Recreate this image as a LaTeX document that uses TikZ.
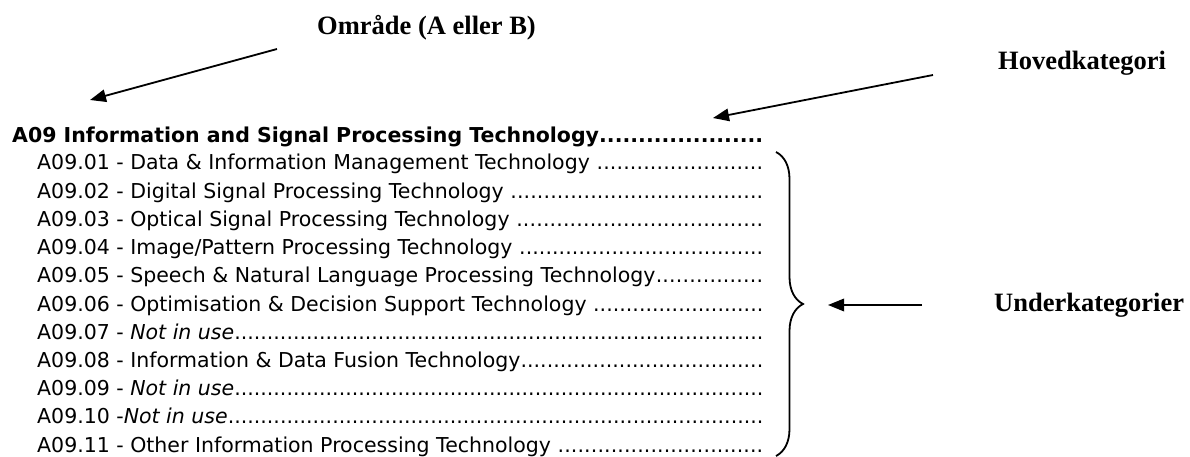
\documentclass[tikz,border=0pt]{standalone}
\usepackage{fontspec}
\setmainfont{Liberation Serif}
\newfontfamily\listfont{DejaVu Sans}
\usetikzlibrary{arrows.meta,decorations.pathreplacing}
\newcommand{\leaderdots}{\xleaders\hbox{.}\hfill}
\tikzset{
  lbl/.style={anchor=base west, inner sep=0pt, font=\fontsize{26.5}{30}\selectfont\bfseries},
  hdr/.style={anchor=base west, inner sep=0pt, font=\listfont\fontsize{20.5}{24}\selectfont\bfseries},
  item/.style={anchor=base west, inner sep=0pt, font=\listfont\fontsize{20.5}{24}\selectfont},
  pointer/.style={line width=1.8pt, -{Triangle[length=16pt,width=12.5pt]}},
  bracestyle/.style={line width=1.8pt, decorate, decoration={brace, amplitude=27pt}}
}
\begin{document}
\begin{tikzpicture}[x=1pt,y=-1pt]
\useasboundingbox (0,0) rectangle (1190,457);
% labels
\node[lbl] (omr) at (317,35) {Område (A eller B)};
\node[lbl] (hov) at (998,70) {Hovedkategori};
\node[lbl] (und) at (994,311) {Underkategorier};
% header
\node[hdr] (hd) at (12,143) {\makebox[751pt][l]{A09 Information and Signal Processing Technology\leaderdots}};
% items
\node[item] (l1) at (37,170.0) {\makebox[726pt][l]{A09.01 - Data \& Information Management Technology \leaderdots}};
\node[item] (l2) at (37,198.2) {\makebox[726pt][l]{A09.02 - Digital Signal Processing Technology \leaderdots}};
\node[item] (l3) at (37,226.4) {\makebox[726pt][l]{A09.03 - Optical Signal Processing Technology \leaderdots}};
\node[item] (l4) at (37,254.6) {\makebox[726pt][l]{A09.04 - Image/Pattern Processing Technology \leaderdots}};
\node[item] (l5) at (37,282.8) {\makebox[726pt][l]{A09.05 - Speech \& Natural Language Processing Technology\leaderdots}};
\node[item] (l6) at (37,311.0) {\makebox[726pt][l]{A09.06 - Optimisation \& Decision Support Technology \leaderdots}};
\node[item] (l7) at (37,339.2) {\makebox[726pt][l]{A09.07 - \textit{Not in use}\leaderdots}};
\node[item] (l8) at (37,367.4) {\makebox[726pt][l]{A09.08 - Information \& Data Fusion Technology\leaderdots}};
\node[item] (l9) at (37,395.6) {\makebox[726pt][l]{A09.09 - \textit{Not in use}\leaderdots}};
\node[item] (l10) at (37,423.8) {\makebox[726pt][l]{A09.10 -\textit{Not in use}\leaderdots}};
\node[item] (l11) at (37,452.0) {\makebox[726pt][l]{A09.11 - Other Information Processing Technology \leaderdots}};
% connectors
\coordinate (p1s) at (277,49);  \coordinate (p1e) at (90,100);
\coordinate (p2s) at (933,75);  \coordinate (p2e) at (713,118);
\coordinate (p3s) at (922,305); \coordinate (p3e) at (828,305);
\coordinate (bt) at (776,152);  \coordinate (bb) at (776,456);
\draw[pointer] (p1s) -- (p1e);
\draw[pointer] (p2s) -- (p2e);
\draw[pointer] (p3s) -- (p3e);
\draw[bracestyle] (bt) -- (bb);
\end{tikzpicture}
\end{document}
